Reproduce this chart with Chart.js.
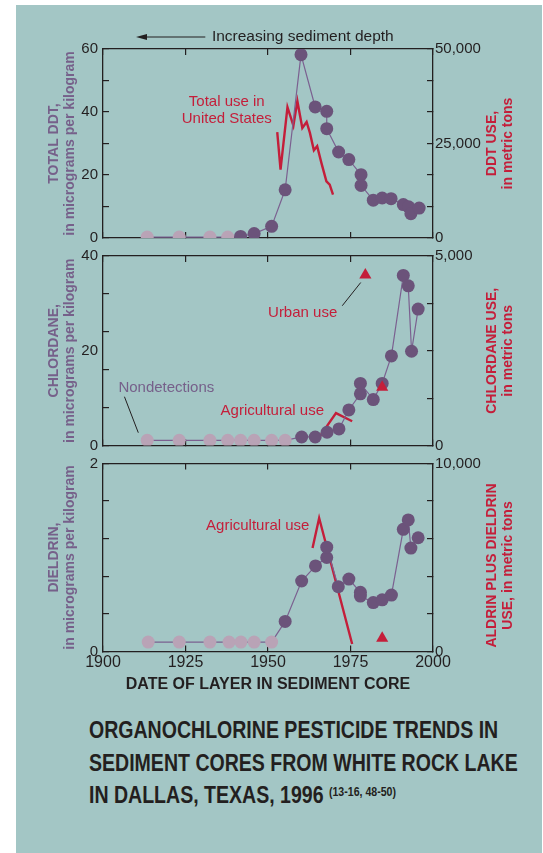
<!DOCTYPE html>
<html>
<head>
<meta charset="utf-8">
<script src="https://cdn.jsdelivr.net/npm/chart.js@4.4.1/dist/chart.umd.min.js"></script>
<style>
  html, body { margin: 0; padding: 0; background: #fff; }
  #page { position: relative; width: 543px; height: 853px; overflow: hidden; }
  #panel { position: absolute; left: 16px; top: 5px; width: 526px; height: 848px; background: #a3c6c5; }
  canvas { position: absolute; left: 0; }
  #title {
    position: absolute; left: 89px; top: 714px; display: inline-block;
    font: bold 24px/32.5px "Liberation Sans", Arial, sans-serif;
    color: #231f20; white-space: nowrap; transform-origin: left top;
  }
  #title sup { font-size: 13px; vertical-align: top; position: relative; top: -3px; }
</style>
</head>
<body>
<div id="page">
  <div id="panel"></div>
  <canvas id="ddt" width="543" height="244" style="top:20px"></canvas>
  <canvas id="chl" width="543" height="242" style="top:230px"></canvas>
  <canvas id="die" width="543" height="267" style="top:437px"></canvas>
  <div id="title">ORGANOCHLORINE PESTICIDE TRENDS IN<br>SEDIMENT CORES FROM WHITE ROCK LAKE<br>IN DALLAS, TEXAS, 1996 <sup>(13-16, 48-50)</sup></div>
</div>
<script>
// ---- data ----
var yearTicks = [1900, 1925, 1950, 1975, 2000];

// total DDT, micrograms per kilogram
var ddtNdYears = [1913.4, 1923.1, 1932.4, 1937.8];
var ddtNdValues = [0.3, 0.3, 0.3, 0.3];
var ddtYears = [1941.7, 1945.8, 1951.1, 1955.2, 1960.0, 1964.3, 1967.8, 1967.8, 1971.4, 1974.5, 1978.2, 1978.2, 1981.9, 1984.6, 1987.3, 1991.0, 1992.6, 1993.3, 1995.8];
var ddtValues = [0.5, 1.4, 3.7, 15.3, 58.2, 41.6, 40.2, 34.7, 27.3, 24.9, 20.1, 16.7, 12.0, 12.7, 12.5, 10.6, 9.9, 7.7, 9.5];
// DDT use in United States, metric tons
var ddtUseYears = [1952.8, 1953.8, 1955.9, 1957.7, 1958.9, 1960.4, 1961.7, 1962.7, 1963.9, 1964.9, 1966.2, 1967.7, 1968.7, 1969.7];
var ddtUseTons = [28000, 18100, 34600, 29700, 36200, 29100, 30700, 27800, 23200, 24300, 19800, 15000, 14100, 11500];
var ddtTicks = [0, 10, 20, 30, 40, 50, 60];
var ddtLabels = [0, 20, 40, 60];
var ddtUseTicks = [0, 8333.33, 16666.67, 25000, 33333.33, 41666.67, 50000];
var ddtUseLabels = [0, 25000, 50000];

// chlordane, micrograms per kilogram
var chlNdYears = [1913.4, 1923.1, 1932.4, 1937.8, 1941.7, 1945.8, 1951.1, 1955.2];
var chlNdValues = [1.1, 1.1, 1.1, 1.1, 1.1, 1.1, 1.1, 1.1];
var chlYears = [1960.2, 1964.3, 1967.9, 1971.5, 1974.5, 1978.0, 1978.0, 1981.9, 1984.6, 1987.4, 1991.0, 1992.5, 1993.5, 1995.5];
var chlValues = [1.8, 1.8, 2.8, 3.5, 7.5, 10.9, 13.1, 9.7, 13.1, 18.9, 35.9, 33.7, 19.9, 28.8];
// chlordane use, metric tons
var chlAgYears = [1963.7, 1965.7, 1970.6, 1975.5];
var chlAgTons = [240, 240, 855, 640];
var chlUrbanYears = [1979.5, 1984.6];
var chlUrbanTons = [4500, 1540];
var chlTicks = [0, 8, 16, 20, 24, 32, 40];
var chlLabels = [0, 20, 40];
var chlUseTicks = [0, 1250, 2500, 3750, 5000];
var chlUseLabels = [0, 5000];

// dieldrin, micrograms per kilogram
var dieNdYears = [1913.7, 1923.1, 1932.4, 1938.2, 1941.8, 1945.8, 1951.1];
var dieNdValues = [0.1, 0.1, 0.1, 0.1, 0.1, 0.1, 0.1];
var dieYears = [1955.2, 1960.2, 1964.4, 1967.8, 1967.8, 1971.3, 1974.5, 1978.0, 1978.0, 1981.9, 1984.6, 1987.4, 1991.0, 1992.5, 1993.3, 1995.5];
var dieValues = [0.32, 0.75, 0.91, 1.0, 1.11, 0.69, 0.77, 0.63, 0.59, 0.52, 0.55, 0.60, 1.30, 1.40, 1.10, 1.21];
// aldrin plus dieldrin use, metric tons
var aldAgYears = [1963.5, 1965.5, 1975.5];
var aldAgTons = [5500, 7100, 400];
var aldUrbanYears = [1984.6];
var aldUrbanTons = [700];
var dieTicks = [0, 0.2, 0.4, 0.6, 0.8, 1, 1.2, 1.4, 1.6, 1.8, 2];
var dieLabels = [0, 1, 2];
var aldUseTicks = [0, 1000, 2000, 3000, 4000, 5000, 6000, 7000, 8000, 9000, 10000];
var aldUseLabels = [0, 5000, 10000];

// ---- styles ----
var INK = '#231f20';
var RED = '#c41e3a';
var PURPLE = '#6b537a';
var LIGHT = '#b9a3b6';
var LINE = '#7b6090';
var TITLE_PURPLE = '#76608a';
var FONT = '"Liberation Sans", Arial, sans-serif';

function pts(xs, ys) {
    return xs.map(function (x, i) { return { x: x, y: ys[i] }; });
}

// texts, leader lines and right-hand titles drawn on top of each panel
var notesPlugin = {
    id: 'notes',
    afterDraw: function (chart, args, o) {
        var ctx = chart.ctx, a = chart.chartArea;
        var sx = chart.scales.x, sy = chart.scales.y;
        ctx.save();
        (o.leaders || []).forEach(function (l) {
            ctx.beginPath();
            ctx.strokeStyle = INK;
            ctx.lineWidth = 1;
            ctx.moveTo(sx.getPixelForValue(l[0]), sy.getPixelForValue(l[1]));
            ctx.lineTo(sx.getPixelForValue(l[2]), sy.getPixelForValue(l[3]));
            ctx.stroke();
        });
        ctx.font = '15px ' + FONT;
        ctx.textAlign = 'center';
        ctx.textBaseline = 'middle';
        (o.labels || []).forEach(function (n) {
            ctx.fillStyle = n.color;
            var cx = sx.getPixelForValue(n.x), cy = sy.getPixelForValue(n.y);
            n.lines.forEach(function (t, i) {
                ctx.fillText(t, cx, cy + (i - (n.lines.length - 1) / 2) * 17);
            });
        });
        if (o.side) {
            ctx.font = 'bold 14px ' + FONT;
            ctx.fillStyle = RED;
            var cy = (a.top + a.bottom) / 2 + (o.side.dy || 0);
            o.side.lines.forEach(function (t, i) {
                ctx.save();
                ctx.translate(a.right + 59 + i * 16, cy);
                ctx.rotate(-Math.PI / 2);
                ctx.fillText(t, 0, 0);
                ctx.restore();
            });
        }
        if (o.arrow) {
            var ay = a.top - 12;
            var x0 = sx.getPixelForValue(o.arrow.from), x1 = sx.getPixelForValue(o.arrow.to);
            ctx.strokeStyle = INK;
            ctx.fillStyle = INK;
            ctx.lineWidth = 1.2;
            ctx.beginPath();
            ctx.moveTo(x0, ay);
            ctx.lineTo(x1 + 8, ay);
            ctx.stroke();
            ctx.beginPath();
            ctx.moveTo(x1, ay);
            ctx.lineTo(x1 + 11, ay - 3);
            ctx.lineTo(x1 + 11, ay + 3);
            ctx.closePath();
            ctx.fill();
            ctx.font = '15.5px ' + FONT;
            ctx.textAlign = 'left';
            ctx.fillText(o.arrow.text, sx.getPixelForValue(o.arrow.textAt), ay);
        }
        ctx.restore();
    }
};

function makePanel(id, p) {
    var sediment = pts(p.ndYears, p.ndValues).concat(pts(p.years, p.values));
    var colors = p.ndYears.map(function () { return LIGHT; }).concat(p.years.map(function () { return PURPLE; }));
    var datasets = [{
        data: sediment,
        borderColor: LINE,
        borderWidth: 1.2,
        pointBackgroundColor: colors,
        pointBorderWidth: 0,
        pointRadius: 6.5,
        yAxisID: 'y',
        order: 1
    }, {
        data: pts(p.useYears, p.useTons),
        borderColor: RED,
        borderWidth: 2.4,
        pointRadius: 0,
        yAxisID: 'y2',
        order: 2
    }];
    if (p.urbanYears) {
        datasets.push({
            data: pts(p.urbanYears, p.urbanTons),
            showLine: false,
            pointStyle: 'triangle',
            pointRadius: 7,
            pointBackgroundColor: RED,
            pointBorderWidth: 0,
            yAxisID: 'y2',
            order: 0
        });
    }
    var fixedTicks = function (vals) {
        return function (s) { s.ticks = vals.map(function (v) { return { value: v }; }); };
    };
    var size = function (prop, v) {
        return function (s) { s[prop] = v; };
    };
    var edge = { display: true, color: INK, width: 1.3 };
    var tickGrid = function (hide) {
        return {
            drawOnChartArea: false, drawTicks: true, tickLength: -6, lineWidth: 1.2,
            tickColor: function (c) { return (c.tick && c.tick.value === hide) ? 'rgba(0,0,0,0)' : INK; }
        };
    };
    new Chart(document.getElementById(id), {
        type: 'line',
        data: { datasets: datasets },
        plugins: [notesPlugin],
        options: {
            responsive: false,
            animation: false,
            layout: { padding: { top: p.padTop, left: 0, right: 0, bottom: 0 } },
            elements: { line: { tension: 0 } },
            plugins: { legend: { display: false }, tooltip: { enabled: false }, notes: p.notes },
            scales: {
                x: {
                    type: 'linear', position: 'bottom', min: 1900, max: 2000,
                    afterBuildTicks: fixedTicks(yearTicks),
                    afterFit: size('height', p.bottomH),
                    border: edge, grid: tickGrid(),
                    ticks: {
                        display: p.showYears, padding: 7, color: INK, font: { size: 16, family: FONT },
                        callback: function (v) { return String(v); }
                    },
                    title: {
                        display: p.showYears, text: 'DATE OF LAYER IN SEDIMENT CORE', color: INK,
                        font: { size: 16, weight: 'bold', family: FONT }, padding: { top: 0, bottom: 10 }
                    }
                },
                xTop: {
                    type: 'linear', position: 'top', min: 1900, max: 2000,
                    afterBuildTicks: fixedTicks(yearTicks),
                    afterFit: size('height', p.topH),
                    border: edge, grid: tickGrid(), ticks: { display: false }
                },
                y: {
                    type: 'linear', position: 'left', min: 0, max: p.leftMax,
                    afterBuildTicks: fixedTicks(p.leftTicks),
                    afterFit: size('width', 103),
                    border: edge, grid: tickGrid(p.hideTick),
                    ticks: {
                        padding: 11, color: INK, font: { size: 15, family: FONT },
                        callback: function (v) { return p.leftLabels.indexOf(v) >= 0 ? String(v) : ''; }
                    },
                    title: {
                        display: true, text: p.leftTitle, color: TITLE_PURPLE,
                        font: { size: 14, weight: 'bold', family: FONT, lineHeight: 1.15 }, padding: { top: 46, bottom: 0 }
                    }
                },
                y2: {
                    type: 'linear', position: 'right', min: 0, max: p.rightMax,
                    afterBuildTicks: fixedTicks(p.rightTicks),
                    afterFit: size('width', 110),
                    border: edge, grid: tickGrid(),
                    ticks: {
                        padding: 8, color: INK, font: { size: 15, family: FONT },
                        callback: function (v) { return p.rightLabels.indexOf(v) >= 0 ? v.toLocaleString('en-US') : ''; }
                    }
                }
            }
        }
    });
}

makePanel('ddt', {
    padTop: 17, topH: 12, bottomH: 26, showYears: false,
    ndYears: ddtNdYears, ndValues: ddtNdValues, years: ddtYears, values: ddtValues,
    useYears: ddtUseYears, useTons: ddtUseTons,
    leftMax: 60, leftTicks: ddtTicks, leftLabels: ddtLabels,
    rightMax: 50000, rightTicks: ddtUseTicks, rightLabels: ddtUseLabels,
    leftTitle: ['TOTAL DDT,', 'in micrograms per kilogram'],
    notes: {
        labels: [{ x: 1937.5, y: 40.5, color: RED, lines: ['Total use in', 'United States'] }],
        side: { lines: ['DDT USE,', 'in metric tons'] },
        arrow: { from: 1931, to: 1910, textAt: 1933, text: 'Increasing sediment depth' }
    }
});

makePanel('chl', {
    padTop: 0, topH: 26, bottomH: 26.5, showYears: false, hideTick: 20,
    ndYears: chlNdYears, ndValues: chlNdValues, years: chlYears, values: chlValues,
    useYears: chlAgYears, useTons: chlAgTons, urbanYears: chlUrbanYears, urbanTons: chlUrbanTons,
    leftMax: 40, leftTicks: chlTicks, leftLabels: chlLabels,
    rightMax: 5000, rightTicks: chlUseTicks, rightLabels: chlUseLabels,
    leftTitle: ['CHLORDANE,', 'in micrograms per kilogram'],
    notes: {
        leaders: [[1978.1, 34.4, 1972.5, 29.5], [1906.5, 10.3, 1910.7, 2.7]],
        labels: [
            { x: 1960.5, y: 27.9, color: RED, lines: ['Urban use'] },
            { x: 1919.2, y: 12.1, color: TITLE_PURPLE, lines: ['Nondetections'] },
            { x: 1951.3, y: 7.3, color: RED, lines: ['Agricultural use'] }
        ],
        side: { lines: ['CHLORDANE USE,', 'in metric tons'] }
    }
});

makePanel('die', {
    padTop: 0, topH: 26.5, bottomH: 52.5, showYears: true,
    ndYears: dieNdYears, ndValues: dieNdValues, years: dieYears, values: dieValues,
    useYears: aldAgYears, useTons: aldAgTons, urbanYears: aldUrbanYears, urbanTons: aldUrbanTons,
    leftMax: 2, leftTicks: dieTicks, leftLabels: dieLabels,
    rightMax: 10000, rightTicks: aldUseTicks, rightLabels: aldUseLabels,
    leftTitle: ['DIELDRIN,', 'in micrograms per kilogram'],
    notes: {
        labels: [{ x: 1946.9, y: 1.335, color: RED, lines: ['Agricultural use'] }],
        side: { lines: ['ALDRIN PLUS DIELDRIN', 'USE, in metric tons'], dy: 8 }
    }
});

// squeeze the bold title to the width of the condensed face in the picture
var title = document.getElementById('title');
title.style.transform = 'scaleX(' + (429 / title.offsetWidth) + ')';
</script>
</body>
</html>
